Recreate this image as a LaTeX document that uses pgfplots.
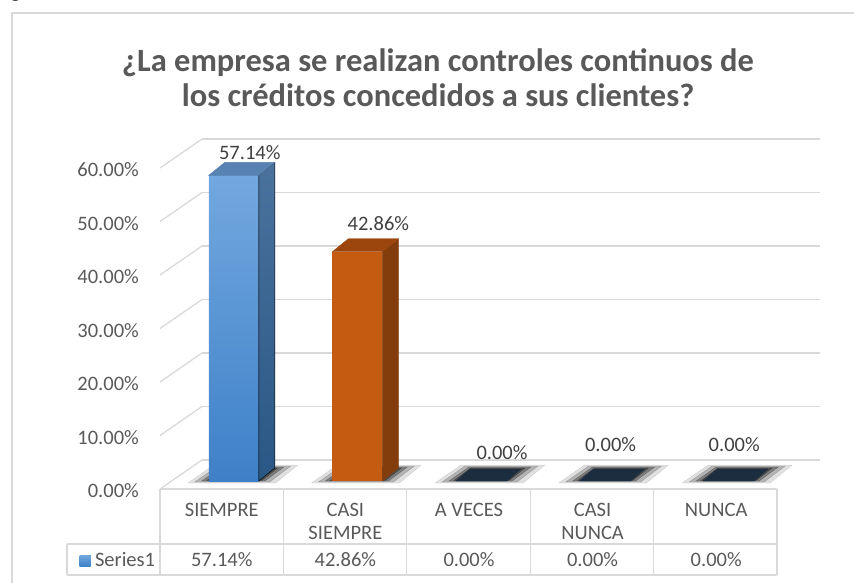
\documentclass[border=0pt]{standalone}
\usepackage{pgfplots}
\usepackage{pgfplotstable}
\pgfplotsset{compat=1.18}
\usepackage{fontspec}
\setmainfont{Carlito}

\definecolor{txt}{HTML}{595959}
\definecolor{lbl}{HTML}{404040}
\definecolor{gridc}{HTML}{D9D9D9}
\definecolor{bluefronttop}{HTML}{72A8DF}
\definecolor{bluefrontbot}{HTML}{3E80C8}
\definecolor{bluetop}{HTML}{5882B2}
\definecolor{bluesidetop}{HTML}{4A729D}
\definecolor{bluesidebot}{HTML}{2A5785}
\definecolor{orfront}{HTML}{C55A11}
\definecolor{ortop}{HTML}{9C460D}
\definecolor{orside}{HTML}{833C0B}
\definecolor{navy}{HTML}{1C2D40}

\pgfplotstableread{
x v
0 57.14
1 42.86
2 0
3 0
4 0
}\datatable

\pgfdeclareplotmark{facesblue}{%
  \pgfmathsetmacro\hh{\ry*5.35}%
  \fill[top color=bluesidetop,bottom color=bluesidebot] (25pt,0pt) -- (41pt,13pt) -- (41pt,13pt-\hh pt) -- (25pt,-\hh pt) -- cycle;
  \fill[bluetop] (-25pt,0pt) -- (25pt,0pt) -- (41pt,13pt) -- (-9pt,13pt) -- cycle;
}
\pgfdeclareplotmark{facesorange}{%
  \pgfmathsetmacro\hh{\ry*5.35}%
  \fill[orside] (25pt,0pt) -- (41pt,13pt) -- (41pt,13pt-\hh pt) -- (25pt,-\hh pt) -- cycle;
  \fill[ortop] (-25pt,0pt) -- (25pt,0pt) -- (41pt,13pt) -- (-9pt,13pt) -- cycle;
}
\pgfdeclareplotmark{navytop}{%
  \fill[navy] (-25pt,0pt) -- (26pt,0pt) -- (40pt,12pt) -- (-11pt,12pt) -- cycle;
}
\pgfdeclareplotmark{shadow}{%
  \fill[black,opacity=0.12] (-46pt,-2pt) -- (42pt,-2pt) -- (64pt,16pt) -- (-20pt,16pt) -- cycle;
  \fill[black,opacity=0.20] (-39pt,-1pt) -- (36pt,-1pt) -- (57pt,15pt) -- (-16pt,15pt) -- cycle;
  \fill[black,opacity=0.30] (-32pt,0pt) -- (31pt,0pt) -- (50pt,14pt) -- (-12pt,14pt) -- cycle;
  \fill[black,opacity=0.35] (-27pt,0.5pt) -- (28pt,0.5pt) -- (44pt,13pt) -- (-10pt,13pt) -- cycle;
}

\pgfplotsset{
  frontplane/.style={
    at={(172pt,101pt)}, anchor=south west,
    scale only axis, width=618pt, height=321pt,
    xmin=-0.5, xmax=4.5, ymin=0, ymax=60,
    clip=false,
  },
}

\begin{document}
\begin{tikzpicture}[x=1pt,y=1pt]
% outer frame
\draw[gridc, line width=1.5pt] (12,-20) -- (12,569) -- (900,569);
\node[anchor=base, inner sep=0pt, font=\fontsize{22}{22}\selectfont\bfseries] at (15.5,584) {g};
% title
\node[align=center, text=txt, font=\fontsize{32.5}{35}\selectfont\bfseries] at (438,504.5)
  {¿La empresa se realizan controles continuos de\\los créditos concedidos a sus clientes?};

% floor shadows (drawn first, beneath everything)
\begin{axis}[frontplane, hide axis]
\addplot[only marks, mark=shadow] table[x=x, y expr=0] \datatable;
\end{axis}

\begin{axis}[
  frontplane,
  axis line style={draw=none},
  major tick length=0pt,
  tick style={draw=none},
  ytick={0,10,...,60},
  yticklabels={0.00\%,10.00\%,20.00\%,30.00\%,40.00\%,50.00\%,60.00\%},
  yticklabel style={font=\fontsize{20.5}{24}\selectfont, text=txt, anchor=east, inner sep=0pt, xshift=-33pt, yshift=-10pt},
  xtick={0,1,2,3,4},
  xticklabels={SIEMPRE,{CASI\\SIEMPRE},A VECES,{CASI\\NUNCA},NUNCA},
  xticklabel style={font=\fontsize{20.5}{23}\selectfont, text=txt, align=center, anchor=north, inner sep=0pt, xshift=-12pt, yshift=-22pt},
  extra x ticks={0,1,2,3,4},
  extra x tick labels={57.14\%,42.86\%,0.00\%,0.00\%,0.00\%},
  extra x tick style={xticklabel style={yshift=-49pt}},
  ymajorgrids,
  major grid style={draw=gridc, line width=1.3pt, xshift=30pt, yshift=21pt},
  /pgf/number format/assume math mode=true,
  legend style={at={(axis description cs:-0.150,-0.248)}, anchor=west, draw=none, fill=none, inner sep=0pt,
    font=\fontsize{20.5}{24}\selectfont, text=txt},
  nodes near coords style={font=\fontsize{20.5}{24}\selectfont, text=lbl, anchor=center, inner sep=0pt},
]
% left wall diagonals
\pgfplotsinvokeforeach{0,10,20,30,40,50,60}{
  \draw[gridc, line width=1.3pt] ([shift={(-12pt,-8pt)}]axis cs:-0.5,#1) -- ([shift={(30pt,21pt)}]axis cs:-0.5,#1);
}

% SIEMPRE
\addplot[ybar, bar width=50pt, bar shift=0pt, draw=none, top color=bluefronttop, bottom color=bluefrontbot,
  skip coords between index={1}{5},
  point meta=y,
  nodes near coords={\pgfmathprintnumber[fixed,fixed zerofill,precision=2]{\pgfplotspointmeta}\%},
  every node near coord/.append style={xshift=16pt, yshift=23pt},
  legend image code/.code={\fill[bluefrontbot] (0pt,-5.5pt) rectangle (11pt,5.5pt); \path (13.5pt,0pt);}
] table[x=x, y=v] \datatable;
\addlegendentry{Series1}
\addplot[only marks, mark=facesblue, visualization depends on={\thisrow{v} \as \ry},
  skip coords between index={1}{5}, forget plot] table[x=x, y=v] \datatable;

% CASI SIEMPRE
\addplot[ybar, bar width=50pt, bar shift=0pt, draw=none, fill=orfront,
  skip coords between index={0}{1}, skip coords between index={2}{5},
  point meta=y,
  nodes near coords={\pgfmathprintnumber[fixed,fixed zerofill,precision=2]{\pgfplotspointmeta}\%},
  every node near coord/.append style={xshift=21pt, yshift=28pt}, forget plot
] table[x=x, y=v] \datatable;
\addplot[only marks, mark=facesorange, visualization depends on={\thisrow{v} \as \ry},
  skip coords between index={0}{1}, skip coords between index={2}{5}, forget plot] table[x=x, y=v] \datatable;

% A VECES
\addplot[only marks, mark=navytop,
  skip coords between index={0}{2}, skip coords between index={3}{5},
  point meta=y,
  nodes near coords={\pgfmathprintnumber[fixed,fixed zerofill,precision=2]{\pgfplotspointmeta}\%},
  every node near coord/.append style={xshift=21pt, yshift=28pt}, forget plot
] table[x=x, y=v] \datatable;
% CASI NUNCA, NUNCA
\addplot[only marks, mark=navytop,
  skip coords between index={0}{3},
  point meta=y,
  nodes near coords={\pgfmathprintnumber[fixed,fixed zerofill,precision=2]{\pgfplotspointmeta}\%},
  every node near coord/.append style={xshift=6pt, yshift=36pt}, forget plot
] table[x=x, y=v] \datatable;
\end{axis}

% data table grid
\begin{scope}[gridc, line width=1.3pt]
\draw (160,93) -- (777,93);
\draw (67,38) -- (777,38);
\draw (67,7) -- (777,7);
\foreach \xx in {160,283.4,406.8,530.2,653.6,777} \draw (\xx,93) -- (\xx,7);
\draw (67,38) -- (67,7);
\end{scope}

\pgfresetboundingbox
\useasboundingbox (0,0) rectangle (854,582);
\end{tikzpicture}
\end{document}
